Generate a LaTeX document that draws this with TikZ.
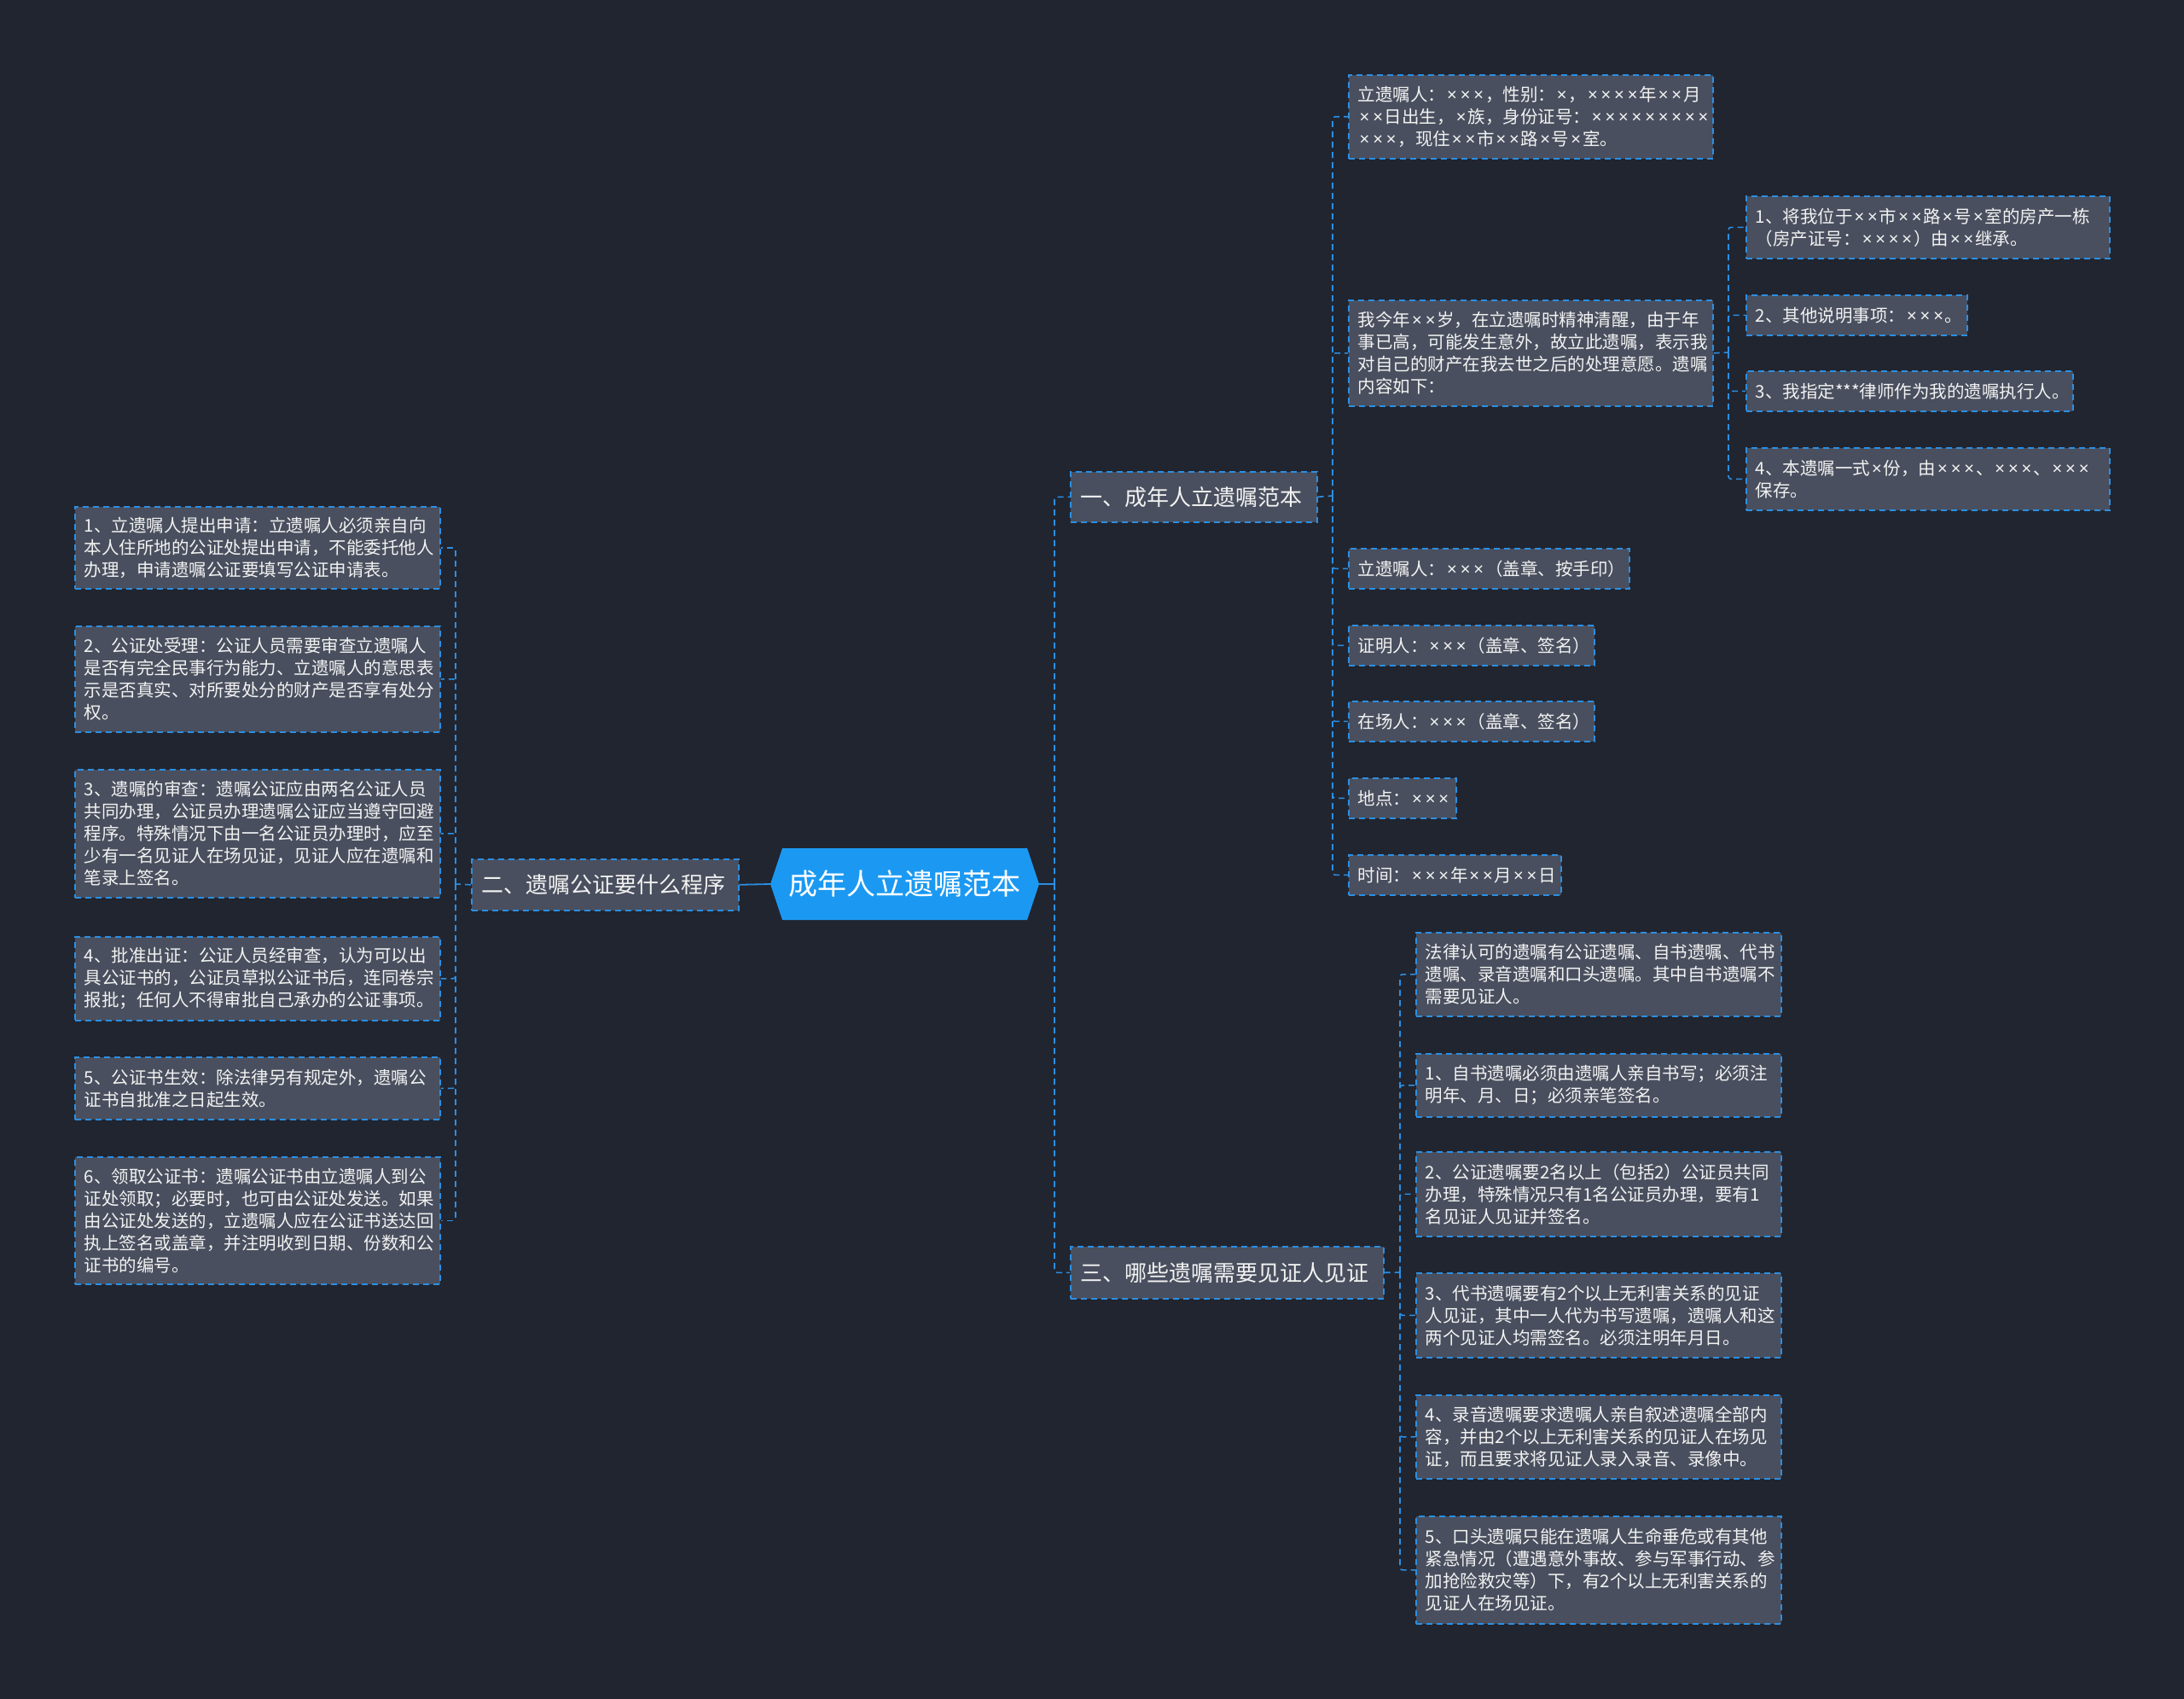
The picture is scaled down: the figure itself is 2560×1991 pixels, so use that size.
\documentclass[tikz,border=0pt]{standalone}
\usepackage{fontspec}
\newfontfamily\cjk{Noto Sans CJK SC}
\newfontfamily\latf{Noto Sans}
\newcommand\mytimes{\makebox[0.76em]{\latf\char"00D7}}
\catcode`\×=\active
\def×{\mytimes}
\definecolor{bgc}{RGB}{33,37,48}
\definecolor{nodefill}{RGB}{73,79,94}
\definecolor{bdr}{RGB}{43,143,227}
\definecolor{rootc}{RGB}{27,153,242}
\definecolor{txt}{RGB}{242,242,242}
\tikzset{
  box/.style={draw=bdr, fill=nodefill, line width=1.6pt, dash pattern=on 7pt off 5pt,
    text=txt, align=left, anchor=north west, inner xsep=11pt, inner ysep=0pt},
  leaf/.style={box, font=\cjk\fontsize{20.5}{26}\selectfont},
  topic/.style={box, font=\cjk\fontsize{26}{30}\selectfont, inner xsep=12pt},
  dconn/.style={draw=bdr, line width=1.6pt, dash pattern=on 7pt off 5pt, rounded corners=3pt},
  sconn/.style={draw=bdr, line width=1.8pt},
}
\begin{document}
\begin{tikzpicture}[x=1pt,y=-1pt]
\fill[bgc] (0,0) rectangle (2560,1991);
\useasboundingbox (0,0) rectangle (2560,1991);

% root
\fill[rootc] (903,1036) -- (917,994) -- (1204,994) -- (1218,1036) -- (1204,1078) -- (917,1078) -- cycle;
\node[text=white, font=\cjk\fontsize{34}{38}\selectfont, minimum width=315pt, minimum height=84pt, inner sep=0pt] (root) at (1060.5,1036) {成年人立遗嘱范本};

% level 1
\node[topic, minimum width=289pt, minimum height=59pt, text width=265pt] (A) at (1254,552) {一、成年人立遗嘱范本};
\node[topic, minimum width=313pt, minimum height=60pt, text width=289pt] (B) at (552,1006) {二、遗嘱公证要什么程序};
\node[topic, minimum width=367pt, minimum height=61pt, text width=343pt] (C) at (1254,1460) {三、哪些遗嘱需要见证人见证};

% A children
\node[leaf, minimum width=427pt, minimum height=98pt, text width=405pt] (A1) at (1580,87) {立遗嘱人：×××，性别：×，××××年××月\\××日出生，×族，身份证号：×××××××××\\×××，现住××市××路×号×室。};
\node[leaf, minimum width=427pt, minimum height=124pt, text width=405pt] (A2) at (1580,351) {我今年××岁，在立遗嘱时精神清醒，由于年\\事已高，可能发生意外，故立此遗嘱，表示我\\对自己的财产在我去世之后的处理意愿。遗嘱\\内容如下：};
\node[leaf, minimum width=329pt, minimum height=47pt, text width=307pt] (A3) at (1580,642) {立遗嘱人：×××（盖章、按手印）};
\node[leaf, minimum width=288pt, minimum height=47pt, text width=266pt] (A4) at (1580,732) {证明人：×××（盖章、签名）};
\node[leaf, minimum width=288pt, minimum height=47pt, text width=266pt] (A5) at (1580,821) {在场人：×××（盖章、签名）};
\node[leaf, minimum width=126pt, minimum height=47pt, text width=104pt] (A6) at (1580,911) {地点：×××};
\node[leaf, minimum width=249pt, minimum height=47pt, text width=227pt] (A7) at (1580,1001) {时间：×××年××月××日};

% A2 children
\node[leaf, minimum width=426pt, minimum height=73pt, text width=404pt] (A2a) at (2046,229) {1、将我位于××市××路×号×室的房产一栋\\（房产证号：××××）由××继承。};
\node[leaf, minimum width=259pt, minimum height=47pt, text width=237pt] (A2b) at (2046,345) {2、其他说明事项：×××。};
\node[leaf, minimum width=383pt, minimum height=47pt, text width=361pt] (A2c) at (2046,434) {3、我指定***律师作为我的遗嘱执行人。};
\node[leaf, minimum width=426pt, minimum height=73pt, text width=404pt] (A2d) at (2046,524) {4、本遗嘱一式×份，由×××、×××、×××\\保存。};

% B children
\node[leaf, minimum width=428pt, minimum height=96pt, text width=406pt] (B1) at (87,593) {1、立遗嘱人提出申请：立遗嘱人必须亲自向\\本人住所地的公证处提出申请，不能委托他人\\办理，申请遗嘱公证要填写公证申请表。};
\node[leaf, minimum width=428pt, minimum height=124pt, text width=406pt] (B2) at (87,733) {2、公证处受理：公证人员需要审查立遗嘱人\\是否有完全民事行为能力、立遗嘱人的意思表\\示是否真实、对所要处分的财产是否享有处分\\权。};
\node[leaf, minimum width=428pt, minimum height=150pt, text width=406pt] (B3) at (87,901) {3、遗嘱的审查：遗嘱公证应由两名公证人员\\共同办理，公证员办理遗嘱公证应当遵守回避\\程序。特殊情况下由一名公证员办理时，应至\\少有一名见证人在场见证，见证人应在遗嘱和\\笔录上签名。};
\node[leaf, minimum width=428pt, minimum height=98pt, text width=406pt] (B4) at (87,1097) {4、批准出证：公证人员经审查，认为可以出\\具公证书的，公证员草拟公证书后，连同卷宗\\报批；任何人不得审批自己承办的公证事项。};
\node[leaf, minimum width=428pt, minimum height=73pt, text width=406pt] (B5) at (87,1238) {5、公证书生效：除法律另有规定外，遗嘱公\\证书自批准之日起生效。};
\node[leaf, minimum width=428pt, minimum height=149pt, text width=406pt] (B6) at (87,1355) {6、领取公证书：遗嘱公证书由立遗嘱人到公\\证处领取；必要时，也可由公证处发送。如果\\由公证处发送的，立遗嘱人应在公证书送达回\\执上签名或盖章，并注明收到日期、份数和公\\证书的编号。};

% C children
\node[leaf, minimum width=428pt, minimum height=98pt, text width=406pt] (C1) at (1659,1092) {法律认可的遗嘱有公证遗嘱、自书遗嘱、代书\\遗嘱、录音遗嘱和口头遗嘱。其中自书遗嘱不\\需要见证人。};
\node[leaf, minimum width=428pt, minimum height=74pt, text width=406pt] (C2) at (1659,1234) {1、自书遗嘱必须由遗嘱人亲自书写；必须注\\明年、月、日；必须亲笔签名。};
\node[leaf, minimum width=428pt, minimum height=99pt, text width=406pt] (C3) at (1659,1349) {2、公证遗嘱要2名以上（包括2）公证员共同\\办理，特殊情况只有1名公证员办理，要有1\\名见证人见证并签名。};
\node[leaf, minimum width=428pt, minimum height=99pt, text width=406pt] (C4) at (1659,1491) {3、代书遗嘱要有2个以上无利害关系的见证\\人见证，其中一人代为书写遗嘱，遗嘱人和这\\两个见证人均需签名。必须注明年月日。};
\node[leaf, minimum width=428pt, minimum height=98pt, text width=406pt] (C5) at (1659,1634) {4、录音遗嘱要求遗嘱人亲自叙述遗嘱全部内\\容，并由2个以上无利害关系的见证人在场见\\证，而且要求将见证人录入录音、录像中。};
\node[leaf, minimum width=428pt, minimum height=126pt, text width=406pt] (C6) at (1659,1776) {5、口头遗嘱只能在遗嘱人生命垂危或有其他\\紧急情况（遭遇意外事故、参与军事行动、参\\加抢险救灾等）下，有2个以上无利害关系的\\见证人在场见证。};

% connectors
\coordinate (rbus) at (1236,1036);
\coordinate (lbus) at (534,1036);
\draw[sconn] (root.east) -- (rbus);
\draw[sconn] (root.west) -- (B.east);
\draw[dconn] (rbus) |- (A.west);
\draw[dconn] (rbus) |- (C.west);
\draw[dconn] (B.west) -- (lbus);
\foreach \n in {B1,B2,B3,B4,B5,B6} \draw[dconn] (lbus) |- (\n.east);

\coordinate (abus) at (1562,581);
\draw[dconn] (A.east) -- (abus);
\foreach \n in {A1,A2,A3,A4,A5,A6,A7} \draw[dconn] (abus) |- (\n.west);

\coordinate (a2bus) at (2026,413);
\draw[dconn] (A2.east) -- (a2bus);
\foreach \n in {A2a,A2b,A2c,A2d} \draw[dconn] (a2bus) |- (\n.west);

\coordinate (cbus) at (1641,1491);
\draw[dconn] (C.east) -- (cbus);
\foreach \n in {C1,C2,C3,C4,C5,C6} \draw[dconn] (cbus) |- (\n.west);
\end{tikzpicture}
\end{document}
